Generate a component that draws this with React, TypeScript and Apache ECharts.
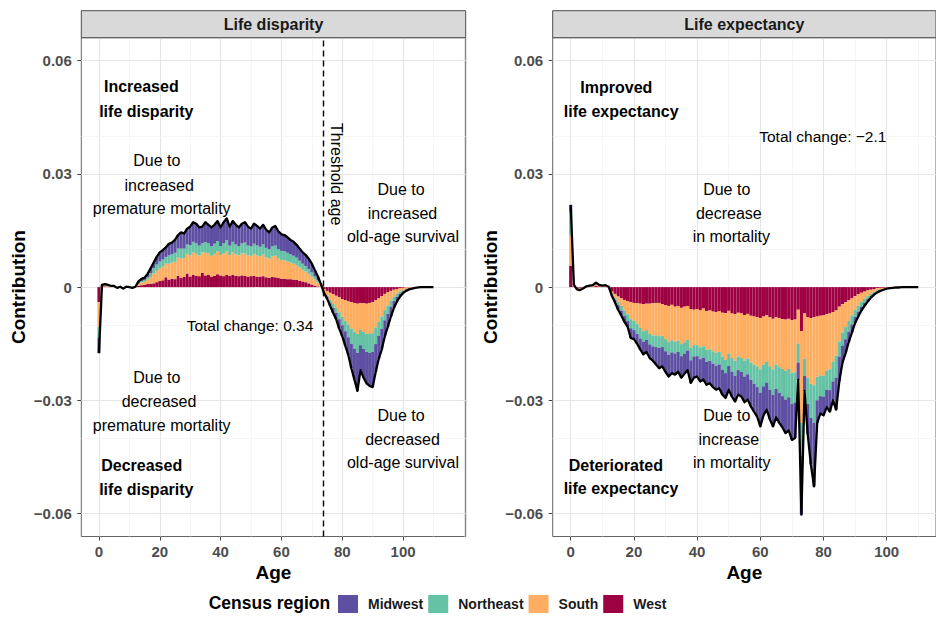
import React, { useEffect, useRef } from "react";
import * as echarts from "echarts";

// ---------- data (contributions, in units of 1e-4) ----------
const SCALE = 1e-4;
const AGES: number[] = [];
for (let a = 0; a <= 110; a++) AGES.push(a);

// Life disparity panel
const LD_WEST = [
  -40, 2, 2, 1, 1, 1, -1, 0, -1, 0,
  0, -1, 0, 3, 5, 6, 8, 9, 10, 13,
  16, 18, 26, 20, 22, 21, 30, 24, 27, 36,
  28, 32, 30, 29, 38, 31, 33, 28, 30, 34,
  31, 29, 33, 30, 32, 30, 29, 31, 30, 28,
  29, 30, 27, 28, 29, 26, 25, 27, 26, 24,
  22, 22, 21, 21, 20, 19, 17, 15, 13, 10,
  7, 4, 2, 0, -5, -10, -15, -19, -23, -27,
  -32, -35, -38, -40, -42, -44, -42, -43, -44, -42,
  -40, -35, -30, -24, -18, -14, -10, -7, -5, -3,
  -2, -1, -1, 0, 0, 0, 0, 0, 0, 0,
  0,
];
const LD_SOUTH = [
  -65, 2, 3, 2, 1, 1, -1, 1, -1, 1,
  0, -1, 1, 5, 7, 8, 12, 18, 26, 30,
  34, 36, 36, 42, 43, 46, 48, 52, 50, 52,
  56, 60, 58, 55, 54, 60, 57, 55, 58, 60,
  54, 60, 62, 55, 60, 57, 55, 58, 60, 56,
  54, 58, 57, 54, 57, 53, 51, 55, 57, 52,
  50, 49, 47, 44, 42, 39, 35, 31, 28, 25,
  21, 16, 10, 4, -6, -12, -19, -26, -32, -40,
  -47, -55, -62, -70, -76, -80, -70, -76, -80, -82,
  -82, -72, -62, -54, -43, -35, -26, -19, -13, -9,
  -6, -4, -2, -2, -1, -1, 0, 0, 0, 0,
  0,
];
const LD_NORTHEAST = [
  -30, 1, 1, 1, 0, 0, 0, 0, -1, 0,
  0, 0, 0, 3, 4, 5, 6, 10, 14, 17,
  18, 19, 18, 22, 22, 24, 24, 26, 25, 25,
  27, 28, 28, 26, 24, 28, 26, 25, 27, 28,
  24, 27, 29, 25, 28, 26, 25, 27, 28, 26,
  25, 27, 26, 25, 27, 25, 24, 26, 27, 25,
  24, 24, 23, 22, 21, 20, 18, 16, 15, 13,
  11, 8, 6, 2, -2, -4, -7, -10, -13, -18,
  -22, -27, -33, -40, -45, -50, -42, -45, -48, -50,
  -50, -44, -37, -33, -27, -22, -16, -11, -8, -5,
  -3, -2, -1, -1, 0, 0, 0, 0, 0, 0,
  0,
];
const LD_MIDWEST = [
  -40, 1, 2, 2, 1, 1, 0, 0, -1, 0,
  0, 0, 0, 4, 6, 6, 9, 13, 15, 20,
  24, 25, 25, 31, 31, 34, 36, 43, 40, 42,
  49, 52, 52, 48, 44, 53, 49, 50, 50, 53,
  49, 56, 58, 50, 55, 52, 49, 52, 54, 50,
  47, 53, 52, 48, 52, 48, 45, 50, 52, 47,
  44, 43, 41, 38, 37, 34, 32, 30, 29, 27,
  23, 17, 10, 2, -2, -4, -8, -13, -17, -25,
  -29, -38, -47, -65, -82, -101, -66, -76, -83, -88,
  -93, -74, -61, -54, -42, -34, -26, -18, -12, -8,
  -5, -3, -2, -1, -1, 0, 0, 0, 0, 0,
  0,
];

// Life expectancy panel
const LE_WEST = [
  57, 2, -2, -2, -1, 1, 1, 1, 3, 2,
  1, 1, 1, -12, -18, -25, -30, -34, -37, -40,
  -42, -43, -44, -45, -44, -44, -43, -42, -42, -45,
  -48, -50, -47, -52, -50, -55, -52, -50, -58, -60,
  -58, -62, -57, -64, -62, -65, -66, -64, -68, -69,
  -63, -70, -72, -68, -70, -74, -71, -76, -78, -80,
  -82, -78, -75, -80, -84, -80, -82, -85, -86, -84,
  -88, -86, -60, -117, -70, -80, -82, -80, -78, -76,
  -75, -72, -70, -66, -62, -52, -45, -40, -35, -30,
  -24, -19, -15, -12, -9, -7, -5, -3, -2, -2,
  -1, -1, 0, 0, 0, 0, 0, 0, 0, 0,
  0,
];
const LE_SOUTH = [
  82, 2, -2, -3, -1, 1, 2, 2, 5, 2,
  2, 2, 0, -5, -10, -14, -20, -28, -35, -45,
  -47, -55, -64, -72, -70, -80, -85, -86, -88, -84,
  -90, -96, -94, -93, -92, -96, -94, -90, -103, -94,
  -96, -98, -100, -102, -103, -105, -108, -108, -116, -124,
  -113, -118, -123, -116, -118, -121, -118, -124, -128, -130,
  -136, -127, -122, -130, -134, -125, -130, -132, -136, -133,
  -140, -140, -90, -243, -120, -160, -175, -180, -160, -158,
  -160, -150, -148, -132, -120, -92, -75, -66, -55, -45,
  -36, -30, -24, -19, -15, -11, -8, -6, -4, -3,
  -2, -1, -1, -1, 0, 0, 0, 0, 0, 0,
  0,
];
const LE_NORTHEAST = [
  60, 1, -1, -1, 0, 0, 0, 1, 2, 1,
  0, 1, 0, -3, -6, -9, -12, -15, -18, -24,
  -25, -26, -28, -28, -26, -28, -29, -31, -31, -30,
  -32, -33, -32, -31, -30, -32, -30, -28, -33, -30,
  -29, -31, -30, -32, -31, -33, -34, -33, -35, -35,
  -33, -36, -40, -36, -37, -42, -42, -46, -50, -55,
  -62, -58, -56, -62, -68, -65, -68, -72, -76, -75,
  -82, -80, -50, -88, -45, -70, -90, -100, -62, -55,
  -55, -50, -55, -52, -58, -40, -35, -32, -28, -24,
  -19, -16, -13, -11, -8, -6, -4, -3, -2, -1,
  -1, -1, -1, 0, 0, 0, 0, 0, 0, 0,
  0,
];
const LE_MIDWEST = [
  19, 1, -1, -2, -1, 0, 1, 1, 2, 1,
  1, 1, 0, -2, -6, -12, -13, -15, -15, -26,
  -24, -26, -29, -33, -32, -36, -38, -46, -54, -51,
  -55, -58, -55, -56, -52, -57, -54, -52, -60, -56,
  -54, -59, -58, -61, -59, -62, -64, -63, -66, -66,
  -63, -66, -68, -65, -65, -68, -67, -70, -74, -78,
  -89, -77, -72, -78, -83, -75, -80, -83, -89, -88,
  -95, -94, -46, -155, -40, -80, -123, -168, -60, -46,
  -50, -46, -57, -50, -85, -66, -45, -37, -27, -21,
  -16, -13, -10, -8, -6, -4, -3, -2, -2, -1,
  0, 0, 0, 0, -1, 0, 0, 0, 0, 0,
  0,
];

const THRESHOLD_AGE = 73.8;
const TOTAL_CHANGE_LD = "0.34";
const TOTAL_CHANGE_LE = "\u22122.1";

const X_TICKS = [0, 20, 40, 60, 80, 100];
const X_MAJOR = [0, 20, 40, 60, 80, 100, 120];
const X_MINOR = [10, 30, 50, 70, 90, 110];
const Y_TICKS = [-0.06, -0.03, 0, 0.03, 0.06];
const Y_MINOR = [-0.045, -0.015, 0.015, 0.045];

const STACK_ORDER = ["West", "South", "Northeast", "Midwest"];
const LEGEND_ORDER = ["Midwest", "Northeast", "South", "West"];
const COLORS: Record<string, string> = {
  Midwest: "#5E4FA2",
  Northeast: "#66C2A5",
  South: "#FDAE61",
  West: "#9E0142",
};

// ---------- layout ----------
const FONT = "'Liberation Sans', Arial, Helvetica, sans-serif";
const Y_MIN = -0.0661;
const Y_MAX = 0.0661;
const PANELS = [
  {
    title: "Life disparity",
    x: 81.3, y: 37.7, w: 384.4, h: 498.8, xMin: -5.8, xMax: 120.6,
    values: { West: LD_WEST, South: LD_SOUTH, Northeast: LD_NORTHEAST, Midwest: LD_MIDWEST } as Record<string, number[]>,
    threshold: true,
  },
  {
    title: "Life expectancy",
    x: 552.7, y: 37.7, w: 383.3, h: 498.8, xMin: -5.7, xMax: 115.6,
    values: { West: LE_WEST, South: LE_SOUTH, Northeast: LE_NORTHEAST, Midwest: LE_MIDWEST } as Record<string, number[]>,
    threshold: false,
  },
];

type Ann = { t: string; x: number; y: number; b?: boolean; r?: number; s?: number };
const ANNOTATIONS: Ann[] = [
  { t: "Increased", x: 141.3, y: 86.7, b: true },
  { t: "life disparity", x: 146.3, y: 111.7, b: true },
  { t: "Due to", x: 156.8, y: 160.5 },
  { t: "increased", x: 159.2, y: 185 },
  { t: "premature mortality", x: 161.7, y: 208.5 },
  { t: "Threshold age", x: 336.5, y: 174.2, r: -Math.PI / 2 },
  { t: "Due to", x: 401, y: 189 },
  { t: "increased", x: 402.5, y: 213.3 },
  { t: "old-age survival", x: 403, y: 236.7 },
  { t: "Total change: " + TOTAL_CHANGE_LD, x: 250, y: 325, s: 15.5 },
  { t: "Due to", x: 156.8, y: 377.3 },
  { t: "decreased", x: 159, y: 401 },
  { t: "premature mortality", x: 161.7, y: 425 },
  { t: "Decreased", x: 141.7, y: 465, b: true },
  { t: "life disparity", x: 146.3, y: 489, b: true },
  { t: "Due to", x: 401, y: 415.7 },
  { t: "decreased", x: 402.5, y: 439 },
  { t: "old-age survival", x: 403, y: 462.7 },
  { t: "Improved", x: 616.3, y: 87.3, b: true },
  { t: "life expectancy", x: 621.2, y: 111, b: true },
  { t: "Total change: " + TOTAL_CHANGE_LE, x: 822.8, y: 136.7, s: 15.5 },
  { t: "Due to", x: 726.7, y: 189 },
  { t: "decrease", x: 728.8, y: 213.3 },
  { t: "in mortality", x: 731.3, y: 236.7 },
  { t: "Due to", x: 726.7, y: 415 },
  { t: "increase", x: 728.8, y: 439.3 },
  { t: "in mortality", x: 731.7, y: 462.7 },
  { t: "Deteriorated", x: 615.8, y: 465, b: true },
  { t: "life expectancy", x: 621, y: 488.3, b: true },
];

const fmtY = (v: number) =>
  Math.abs(v) < 1e-9 ? "0" : (v < 0 ? "\u2212" : "") + Math.abs(v).toFixed(2);

function buildOption(): any {
  const grids: any[] = [];
  const xAxes: any[] = [];
  const yAxes: any[] = [];
  const series: any[] = [];
  const graphic: any[] = [];

  PANELS.forEach((p, i) => {
    grids.push({
      left: p.x, top: p.y, width: p.w, height: p.h,
      show: true, backgroundColor: "#fff", borderColor: "#666", borderWidth: 1,
      containLabel: false,
    });
    xAxes.push({
      type: "value", gridIndex: i, min: p.xMin, max: p.xMax,
      splitLine: { show: false },
      axisLine: { show: false, onZero: false },
      axisTick: { show: true, customValues: X_TICKS, length: 4, lineStyle: { color: "#444", width: 1 } },
      axisLabel: { customValues: X_TICKS, margin: 7, color: "#4D4D4D", fontWeight: "bold", fontSize: 15, fontFamily: FONT },
      name: "Age", nameLocation: "middle", nameGap: 25,
      nameTextStyle: { fontFamily: FONT, fontWeight: "bold", fontSize: 19, color: "#000" },
    });
    yAxes.push({
      type: "value", gridIndex: i, min: Y_MIN, max: Y_MAX,
      splitLine: { show: false },
      axisLine: { show: false, onZero: false },
      axisTick: { show: true, customValues: Y_TICKS, length: 4, lineStyle: { color: "#444", width: 1 } },
      axisLabel: { customValues: Y_TICKS, margin: 9.5, formatter: fmtY, color: "#4D4D4D", fontWeight: "bold", fontSize: 15, fontFamily: FONT },
      name: "Contribution", nameLocation: "middle", nameGap: 53, nameRotate: 90,
      nameTextStyle: { fontFamily: FONT, fontWeight: "bold", fontSize: 19, color: "#000" },
    });

    const gridData: any[] = [];
    X_MAJOR.filter((v) => v > p.xMin && v < p.xMax).forEach((v) =>
      gridData.push({ xAxis: v, lineStyle: { color: "#E6E6E6", width: 1.1, type: "solid" } }));
    X_MINOR.filter((v) => v > p.xMin && v < p.xMax).forEach((v) =>
      gridData.push({ xAxis: v, lineStyle: { color: "#F2F2F2", width: 0.7, type: "solid" } }));
    Y_TICKS.forEach((v) =>
      gridData.push({ yAxis: v, lineStyle: { color: "#E6E6E6", width: 1.1, type: "solid" } }));
    Y_MINOR.forEach((v) =>
      gridData.push({ yAxis: v, lineStyle: { color: "#F2F2F2", width: 0.7, type: "solid" } }));
    series.push({
      type: "line", name: "grid" + i, xAxisIndex: i, yAxisIndex: i, data: [], silent: true, z: 1,
      markLine: { silent: true, z: 1, symbol: ["none", "none"], label: { show: false }, animation: false, data: gridData },
    });

    const barW = p.w / (p.xMax - p.xMin);
    STACK_ORDER.forEach((r) => {
      series.push({
        type: "bar", name: r, stack: "stack" + i, xAxisIndex: i, yAxisIndex: i,
        barWidth: barW, silent: true, z: 2,
        encode: { x: 1, y: 0 },
        data: AGES.map((a, k) => [p.values[r][k] * SCALE, a]),
        itemStyle: { color: COLORS[r] },
        emphasis: { disabled: true },
      });
    });

    const totals = AGES.map((a, k) =>
      [a, STACK_ORDER.reduce((s, r) => s + p.values[r][k], 0) * SCALE]);
    const lineSeries: any = {
      type: "line", name: "total" + i, xAxisIndex: i, yAxisIndex: i, data: totals,
      symbol: "none", silent: true, z: 3,
      lineStyle: { color: "#000", width: 2.3, join: "round" },
      emphasis: { disabled: true },
    };
    if (p.threshold) {
      lineSeries.markLine = {
        silent: true, z: 6, symbol: ["none", "none"], label: { show: false }, animation: false,
        lineStyle: { type: [6, 4], color: "#000", width: 1.4 },
        data: [{ xAxis: THRESHOLD_AGE }],
      };
    }
    series.push(lineSeries);

    // facet strip
    graphic.push({
      type: "rect", silent: true, z: 5,
      shape: { x: p.x, y: 10.7, width: p.w, height: p.y - 10.7 },
      style: { fill: "#D9D9D9", stroke: "#4D4D4D", lineWidth: 1 },
    });
    graphic.push({
      type: "text", silent: true, z: 6, x: p.x + p.w / 2, y: (10.7 + p.y) / 2,
      style: {
        text: p.title, fill: "#1A1A1A", fontFamily: FONT, fontWeight: "bold", fontSize: 16,
        align: "center", verticalAlign: "middle", textAlign: "center", textVerticalAlign: "middle",
      },
    });
  });

  ANNOTATIONS.forEach((a) => {
    graphic.push({
      type: "text", silent: true, z: 10, x: a.x, y: a.y, rotation: a.r || 0,
      style: {
        text: a.t, fill: "#000", fontFamily: FONT, fontWeight: a.b ? "bold" : "normal", fontSize: a.s || 16,
        align: "center", verticalAlign: "middle", textAlign: "center", textVerticalAlign: "middle",
      },
    });
  });

  graphic.push({
    type: "text", silent: true, z: 10, x: 208.7, y: 603,
    style: {
      text: "Census region", fill: "#000", fontFamily: FONT, fontWeight: "bold", fontSize: 17.5,
      align: "left", verticalAlign: "middle", textAlign: "left", textVerticalAlign: "middle",
    },
  });

  return {
    animation: false,
    backgroundColor: "#fff",
    grid: grids,
    xAxis: xAxes,
    yAxis: yAxes,
    legend: {
      data: LEGEND_ORDER, left: 333, top: 590, orient: "horizontal",
      itemWidth: 20, itemHeight: 18, itemGap: 5, icon: "rect", selectedMode: false,
      textStyle: { fontFamily: FONT, fontWeight: "bold", fontSize: 14, color: "#1A1A1A", padding: [0, 0, 0, 5] },
    },
    series,
    graphic,
  };
}

export default function App() {
  const ref = useRef<HTMLDivElement>(null);
  useEffect(() => {
    if (!ref.current) return;
    const chart = echarts.init(ref.current, undefined, { renderer: "svg" });
    chart.setOption(buildOption());
    return () => chart.dispose();
  }, []);
  return (
    <div
      ref={ref}
      style={{ position: "absolute", left: 0, top: 0, width: 936, height: 624, background: "#fff" }}
    />
  );
}
